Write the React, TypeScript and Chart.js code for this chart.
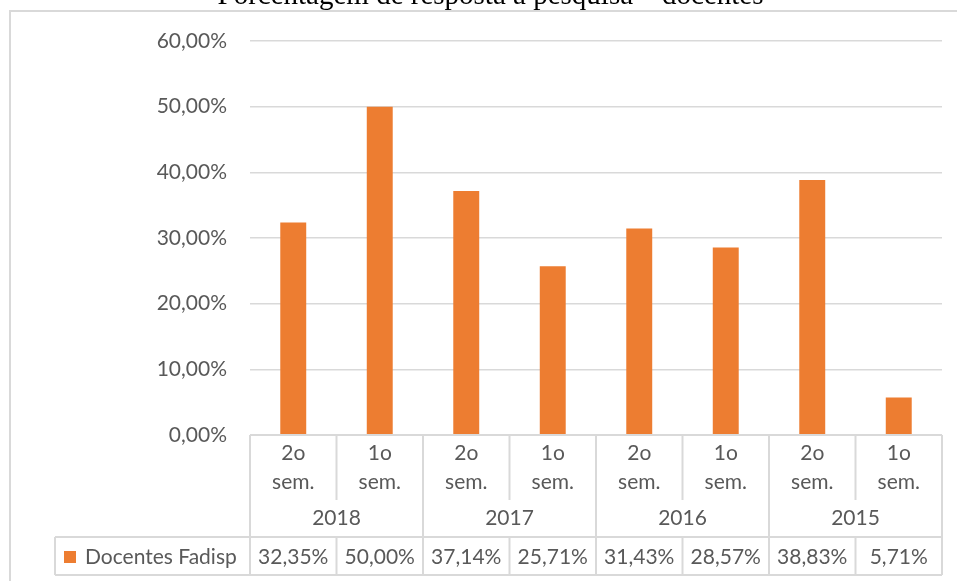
import React, { useEffect, useRef } from "react";
import { Chart, registerables } from "chart.js";

Chart.register(...registerables);

const TITLE = "Porcentagem de resposta à pesquisa – docentes";
const SERIES_NAME = "Docentes Fadisp";
const semesterLabels: string[][] = [
  ["2o", "sem."], ["1o", "sem."],
  ["2o", "sem."], ["1o", "sem."],
  ["2o", "sem."], ["1o", "sem."],
  ["2o", "sem."], ["1o", "sem."],
];
const yearLabels: string[] = ["2018", "2017", "2016", "2015"];
const values: number[] = [32.35, 50.0, 37.14, 25.71, 31.43, 28.57, 38.83, 5.71];
const yTicks = { min: 0, max: 60, step: 10 };

const BAR_COLOR = "#ED7D31";
const LINE_COLOR = "#D9D9D9";
const TEXT_COLOR = "#595959";
const FONT = "Lato";
const FONT_SIZE = 21;

const fmt = (v: number) => v.toFixed(2).replace(".", ",") + "%";

const tablePlugin = {
  id: "excelTable",
  afterDraw(chart: any) {
    const ctx = chart.ctx as CanvasRenderingContext2D;
    const area = chart.chartArea;
    const left = area.left;
    const right = area.right;
    const n = values.length;
    const cw = (right - left) / n;
    const top = area.bottom;
    const semBottom = top + 65;
    const yearBottom = top + 102;
    const dataBottom = top + 140;
    const legendLeft = 55;

    ctx.save();
    // title
    ctx.fillStyle = "#000";
    ctx.font = '29px "Liberation Serif"';
    ctx.textAlign = "center";
    ctx.textBaseline = "alphabetic";
    ctx.fillText(TITLE, 490.5, 4);

    // outer border
    ctx.strokeStyle = LINE_COLOR;
    ctx.lineWidth = 2;
    ctx.beginPath();
    ctx.moveTo(10, 581);
    ctx.lineTo(10, 11);
    ctx.lineTo(957, 11);
    ctx.stroke();

    // table lines
    ctx.beginPath();
    ctx.moveTo(left, top);
    ctx.lineTo(right, top);
    ctx.moveTo(legendLeft, yearBottom);
    ctx.lineTo(right, yearBottom);
    ctx.moveTo(legendLeft, dataBottom);
    ctx.lineTo(right, dataBottom);
    ctx.moveTo(legendLeft, yearBottom);
    ctx.lineTo(legendLeft, dataBottom);
    for (let i = 0; i <= n; i++) {
      const x = left + i * cw;
      if (i % 2 === 0) {
        ctx.moveTo(x, top);
        ctx.lineTo(x, dataBottom);
      } else {
        ctx.moveTo(x, top);
        ctx.lineTo(x, semBottom);
        ctx.moveTo(x, yearBottom);
        ctx.lineTo(x, dataBottom);
      }
    }
    ctx.stroke();

    // texts
    ctx.fillStyle = TEXT_COLOR;
    ctx.font = `${FONT_SIZE}px ${FONT}`;
    ctx.textAlign = "center";
    ctx.textBaseline = "middle";
    for (let i = 0; i < n; i++) {
      const cx = left + (i + 0.5) * cw;
      ctx.fillText(semesterLabels[i][0], cx, top + 18);
      ctx.fillText(semesterLabels[i][1], cx, top + 47);
      ctx.fillText(fmt(values[i]), cx, yearBottom + 20);
    }
    for (let g = 0; g < yearLabels.length; g++) {
      const cx = left + (g * 2 + 1) * cw;
      ctx.fillText(yearLabels[g], cx, semBottom + 18);
    }
    // legend
    ctx.fillStyle = BAR_COLOR;
    ctx.fillRect(64, yearBottom + 14, 12, 12);
    ctx.fillStyle = TEXT_COLOR;
    ctx.textAlign = "left";
    ctx.fillText(SERIES_NAME, 85, yearBottom + 20);
    ctx.restore();
  },
};

export default function App() {
  const ref = useRef<HTMLCanvasElement | null>(null);
  useEffect(() => {
    if (!ref.current) return;
    const chart = new Chart(ref.current, {
      type: "bar",
      data: {
        labels: semesterLabels.map((s) => s.join(" ")),
        datasets: [
          {
            label: SERIES_NAME,
            data: values,
            backgroundColor: BAR_COLOR,
            barPercentage: 0.3,
            categoryPercentage: 1,
          },
        ],
      },
      options: {
        animation: false,
        responsive: true,
        maintainAspectRatio: false,
        layout: { padding: { left: 10, right: 15, top: 41, bottom: 146 } },
        plugins: {
          legend: { display: false },
          title: { display: false },
          tooltip: { enabled: false },
        },
        scales: {
          x: { display: false },
          y: {
            min: yTicks.min,
            max: yTicks.max,
            afterFit: (scale: any) => {
              scale.width = 240;
            },
            border: { display: false },
            grid: { color: LINE_COLOR, lineWidth: 1.5, drawTicks: false },
            ticks: {
              stepSize: yTicks.step,
              padding: 23,
              color: TEXT_COLOR,
              font: { family: FONT, size: FONT_SIZE },
              callback: (v: any) => fmt(Number(v)),
            },
          },
        },
      },
      plugins: [tablePlugin],
    });
    return () => chart.destroy();
  }, []);
  return (
    <div style={{ position: "fixed", left: 0, top: 0, width: 957, height: 581, background: "#fff" }}>
      <canvas ref={ref} />
    </div>
  );
}
